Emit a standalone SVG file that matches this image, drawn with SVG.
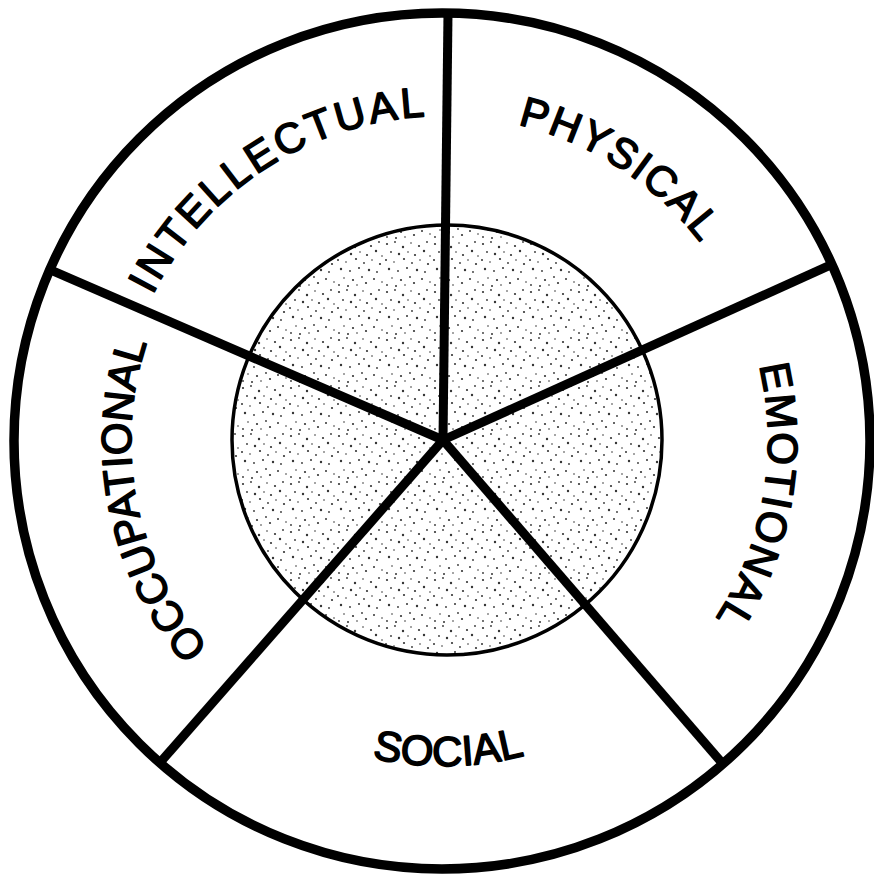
<svg xmlns="http://www.w3.org/2000/svg" xmlns:xlink="http://www.w3.org/1999/xlink" width="874" height="880" viewBox="0 0 874 880">
<style>
.lbl{font-family:"Liberation Sans",Arial,Helvetica,sans-serif;font-size:42px;fill:#000;stroke:#000;stroke-width:1.6px;stroke-linejoin:round}
.spoke{stroke:#000;stroke-width:9;stroke-linecap:butt;fill:none}
</style>
<defs>
<pattern id="stip" width="48" height="48" patternUnits="userSpaceOnUse">
<rect width="48" height="48" fill="#fff"/>
<g fill="#333">
<circle cx="3" cy="4" r="1.1"/><circle cx="11" cy="2" r="0.9"/><circle cx="19" cy="7" r="1.2"/><circle cx="27" cy="3" r="0.8"/>
<circle cx="35" cy="6" r="1.1"/><circle cx="43" cy="2" r="0.9"/><circle cx="7" cy="12" r="0.9"/><circle cx="15" cy="14" r="1.2"/>
<circle cx="24" cy="12" r="0.8"/><circle cx="31" cy="15" r="1.1"/><circle cx="40" cy="11" r="1.2"/><circle cx="46" cy="16" r="0.8"/>
<circle cx="2" cy="20" r="1"/><circle cx="10" cy="22" r="0.8"/><circle cx="20" cy="19" r="1.1"/><circle cx="28" cy="23" r="0.9"/>
<circle cx="36" cy="20" r="0.8"/><circle cx="44" cy="24" r="1.1"/><circle cx="5" cy="29" r="1.2"/><circle cx="14" cy="31" r="0.9"/>
<circle cx="23" cy="28" r="1"/><circle cx="33" cy="30" r="1.2"/><circle cx="41" cy="32" r="0.9"/><circle cx="8" cy="38" r="0.8"/>
<circle cx="17" cy="40" r="1.1"/><circle cx="26" cy="37" r="0.9"/><circle cx="30" cy="43" r="1.1"/><circle cx="38" cy="39" r="1"/>
<circle cx="46" cy="42" r="0.8"/><circle cx="3" cy="45" r="0.9"/><circle cx="12" cy="46" r="1"/><circle cx="21" cy="45" r="0.8"/>
</g>
</pattern>
<path id="pIntel" d="M132.2,346 A325,325 0 0 1 482.6,118.4"/>
<path id="pPhys" d="M403.4,118.4 A325,325 0 0 1 753.8,346"/>
<path id="pEmo" d="M724.5,278.5 A325,325 0 0 1 651.9,690"/>
<path id="pOcc" d="M248.8,685.2 A312,312 0 0 1 168.8,292.1"/>
<path id="pSoc" d="M238.5,693.6 A325,325 0 0 0 656.2,686.3"/>
</defs>
<rect width="874" height="880" fill="#fff"/>
<g id="outer-ring">
<circle cx="442" cy="441" r="428" fill="none" stroke="#000" stroke-width="9.5"/>
</g>
<g id="hub">
<circle cx="447" cy="440" r="215" fill="url(#stip)" stroke="#000" stroke-width="3.5"/>
</g>
<g id="connectors">
<line class="spoke" x1="443" y1="440" x2="448" y2="13"/>
<line class="spoke" x1="443" y1="440" x2="831.9" y2="264.4"/>
<line class="spoke" x1="443" y1="440" x2="722.9" y2="764"/>
<line class="spoke" x1="443" y1="440" x2="159.9" y2="762.8"/>
<line class="spoke" x1="443" y1="440" x2="49.8" y2="269.7"/>
<circle cx="443" cy="440" r="5.5" fill="#000"/>
</g>
<g id="intellectual"><text class="lbl" letter-spacing="3"><textPath xlink:href="#pIntel" href="#pIntel" startOffset="50%" text-anchor="middle">INTELLECTUAL</textPath></text></g>
<g id="physical"><text class="lbl" letter-spacing="2"><textPath xlink:href="#pPhys" href="#pPhys" startOffset="50%" text-anchor="middle">PHYSICAL</textPath></text></g>
<g id="emotional"><text class="lbl" letter-spacing="2"><textPath xlink:href="#pEmo" href="#pEmo" startOffset="50%" text-anchor="middle">EMOTIONAL</textPath></text></g>
<g id="occupational"><text class="lbl"><textPath xlink:href="#pOcc" href="#pOcc" startOffset="50%" text-anchor="middle">OCCUPATIONAL</textPath></text></g>
<g id="social"><text class="lbl"><textPath xlink:href="#pSoc" href="#pSoc" startOffset="50%" text-anchor="middle">SOCIAL</textPath></text></g>
</svg>
